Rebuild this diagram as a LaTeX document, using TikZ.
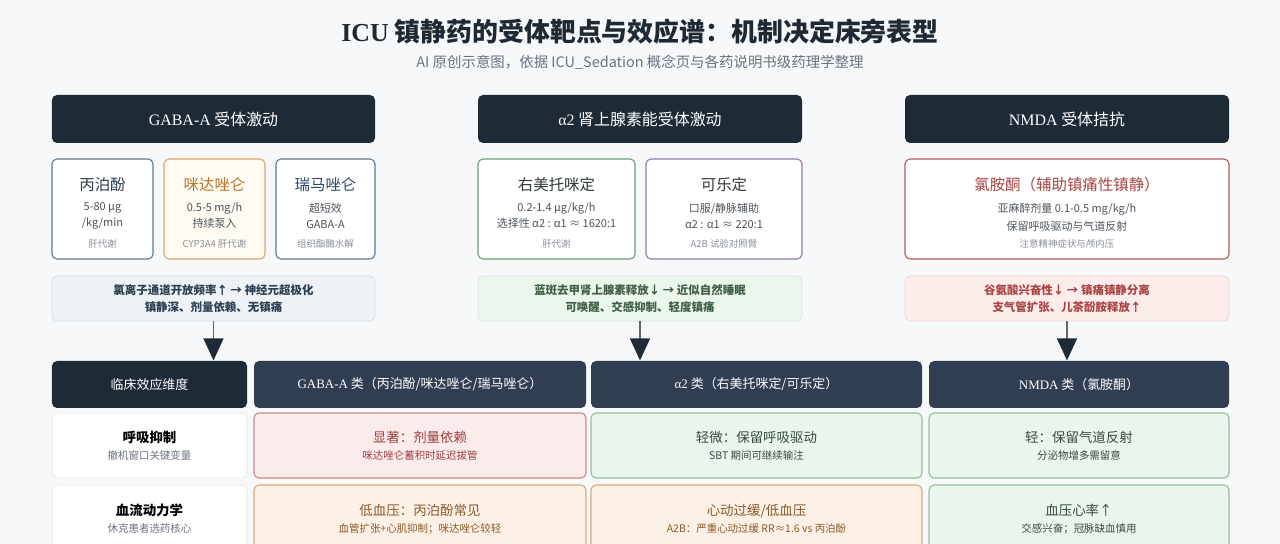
\documentclass[tikz,border=0pt]{standalone}
\usepackage{fontspec}
\setmainfont{Noto Sans CJK SC}
\newfontfamily\serif{Liberation Serif}
\usetikzlibrary{arrows.meta,positioning}

\definecolor{pagebg}{HTML}{F7F8FA}
\definecolor{headdark}{HTML}{1E2A36}
\definecolor{headslate}{HTML}{2F3E51}
\definecolor{ink}{HTML}{1F2933}
\definecolor{subgrey}{HTML}{6B7280}
\definecolor{notegrey}{HTML}{8A9099}
\definecolor{gabaline}{HTML}{5C7A90}
\definecolor{gabaink}{HTML}{2C3E50}
\definecolor{midline}{HTML}{D9A865}
\definecolor{midfill}{HTML}{FFFBF3}
\definecolor{midink}{HTML}{B5762C}
\definecolor{remiink}{HTML}{2E4A6B}
\definecolor{dexline}{HTML}{6A9E74}
\definecolor{dexink}{HTML}{2F3A33}
\definecolor{cloline}{HTML}{9479A8}
\definecolor{cloink}{HTML}{3A3540}
\definecolor{ketline}{HTML}{B55B5B}
\definecolor{ketink}{HTML}{A94444}
\definecolor{mechblue}{HTML}{EEF2F7}
\definecolor{mechgreen}{HTML}{EBF6ED}
\definecolor{mechred}{HTML}{FCECEA}
\definecolor{cellred}{HTML}{FCEBEB}
\definecolor{cellredline}{HTML}{C98A8A}
\definecolor{cellredink}{HTML}{9E3F3F}
\definecolor{cellgreen}{HTML}{EAF6EC}
\definecolor{cellgreenline}{HTML}{95BE9C}
\definecolor{cellgreenink}{HTML}{3A4A40}
\definecolor{cellorange}{HTML}{FDF1E5}
\definecolor{cellorangeline}{HTML}{D9A87A}
\definecolor{cellorangeink}{HTML}{8A5A2A}

\tikzset{
  panel/.style={rounded corners=5bp, inner sep=0pt, line width=1.1bp},
  receptor/.style={panel, fill=headdark, text=white, minimum height=48bp, font=\fontsize{16}{18}\selectfont},
  drugbox/.style={panel, fill=white, draw=#1, minimum height=100bp},
  drugname/.style={font=\fontsize{15.5}{17}\selectfont},
  druginfo/.style={font=\fontsize{11}{16}\selectfont, align=center, text=ink!80},
  drugnote/.style={font=\fontsize{9.5}{11}\selectfont, text=notegrey},
  mech/.style={panel, line width=0.8bp, minimum height=45bp, font=\fontsize{11.5}{17}\selectfont\bfseries, align=center},
  colhead/.style={panel, fill=headslate, text=white, minimum height=47bp, font=\fontsize{13}{15}\selectfont},
  rowname/.style={panel, line width=0.8bp, fill=white, draw=black!10, align=center},
  cell/.style={panel, align=center},
  feed/.style={draw=black!60, line width=1.2bp, -{Triangle[width=20bp,length=22bp,color=headdark]}}
}

%% cell text: title line and small line
\newcommand\ctitle[1]{{\fontsize{13.5}{16}\selectfont #1}}
\newcommand\rtitle[1]{{\fontsize{13.5}{16}\selectfont\bfseries #1}}
\newcommand\csmall[1]{{\fontsize{10.5}{13}\selectfont #1}}

\begin{document}
\begin{tikzpicture}[x=1bp,y=-1bp]
    \fill[pagebg] (0,0) rectangle (1280,544);
    \useasboundingbox (0,0) rectangle (1280,544);
    \clip (0,0) rectangle (1280,544);

    %% Title
    \node[text=ink, font=\fontsize{26}{30}\selectfont\bfseries] (title) at (640,32)
        {{\serif ICU} 镇静药的受体靶点与效应谱：机制决定床旁表型};
    \node[text=subgrey, font=\fontsize{14.5}{17}\selectfont] (subtitle) at (640,62)
        {AI 原创示意图，依据 ICU\_Sedation 概念页与各药说明书级药理学整理};

    %% Receptor headers
    \node[receptor, minimum width=323bp] (gaba) at (213.5,119) {{\serif GABA-A} 受体激动};
    \node[receptor, minimum width=324bp] (alpha) at (640,119) {{\serif α2} 肾上腺素能受体激动};
    \node[receptor, minimum width=324bp] (nmda) at (1067,119) {{\serif NMDA} 受体拮抗};

    %% Drugs
    \node[drugbox=gabaline, minimum width=101bp] (prop) at (102.5,209) {};
    \node[drugname, text=gabaink] (propN) at (102.5,185) {丙泊酚};
    \node[druginfo] (propI) at (102.5,216) {5-80 μg\\/kg/min};
    \node[drugnote] (propM) at (102.5,244) {肝代谢};

    \node[drugbox=midline, fill=midfill, minimum width=101bp] (mida) at (214.5,209) {};
    \node[drugname, text=midink] (midaN) at (214.5,185) {咪达唑仑};
    \node[druginfo] (midaI) at (214.5,216) {0.5-5 mg/h\\持续泵入};
    \node[drugnote] (midaM) at (214.5,244) {CYP3A4 肝代谢};

    \node[drugbox=gabaline, minimum width=99bp] (remi) at (325.5,209) {};
    \node[drugname, text=remiink] (remiN) at (325.5,185) {瑞马唑仑};
    \node[druginfo] (remiI) at (325.5,216) {超短效\\GABA-A};
    \node[drugnote] (remiM) at (325.5,244) {组织酯酶水解};

    \node[drugbox=dexline, minimum width=157bp] (dex) at (556.5,209) {};
    \node[drugname, text=dexink] (dexN) at (556.5,185) {右美托咪定};
    \node[druginfo] (dexI) at (556.5,216) {0.2-1.4 μg/kg/h\\选择性 α2 : α1 ≈ 1620:1};
    \node[drugnote] (dexM) at (556.5,244) {肝代谢};

    \node[drugbox=cloline, minimum width=156bp] (clon) at (724,209) {};
    \node[drugname, text=cloink] (clonN) at (724,185) {可乐定};
    \node[druginfo] (clonI) at (724,216) {口服/静脉辅助\\α2 : α1 ≈ 220:1};
    \node[drugnote] (clonM) at (724,244) {A2B 试验对照臂};

    \node[drugbox=ketline, minimum width=324bp] (ket) at (1067,209) {};
    \node[drugname, text=ketink] (ketN) at (1067,185) {氯胺酮（辅助镇痛性镇静）};
    \node[druginfo, font=\fontsize{11}{18}\selectfont] (ketI) at (1067,217) {亚麻醉剂量 0.1-0.5 mg/kg/h\\保留呼吸驱动与气道反射};
    \node[drugnote] (ketM) at (1067,244) {注意精神症状与颅内压};

    %% Mechanisms
    \node[mech, fill=mechblue, draw=gabaline!25, text=gabaink, minimum width=323bp] (gabaM) at (213.5,298.5)
        {氯离子通道开放频率↑ → 神经元超极化\\镇静深、剂量依赖、无镇痛};
    \node[mech, fill=mechgreen, draw=dexline!25, text=dexline!60!black, minimum width=324bp] (alphaM) at (640,298.5)
        {蓝斑去甲肾上腺素释放↓ → 近似自然睡眠\\可唤醒、交感抑制、轻度镇痛};
    \node[mech, fill=mechred, draw=ketline!25, text=ketink, minimum width=324bp] (nmdaM) at (1067,298.5)
        {谷氨酸兴奋性↓ → 镇痛镇静分离\\支气管扩张、儿茶酚胺释放↑};

    %% Table header
    \node[colhead, fill=headdark, minimum width=195bp] (dimH) at (149.5,384.5) {临床效应维度};
    \node[colhead, minimum width=332bp] (gabaH) at (420,384.5) {{\serif GABA-A} 类（丙泊酚/咪达唑仑/瑞马唑仑）};
    \node[colhead, minimum width=331bp] (alphaH) at (756.5,384.5) {{\serif α2} 类（右美托咪定/可乐定）};
    \node[colhead, minimum width=300bp] (nmdaH) at (1079,384.5) {{\serif NMDA} 类（氯胺酮）};

    \draw[feed] (gabaM.south) -- (gabaM.south |- gabaH.north);
    \draw[feed] (alphaM.south) -- (alphaM.south |- alphaH.north);
    \draw[feed] (nmdaM.south) -- (nmdaM.south |- nmdaH.north);

    %% Row: respiration
    \node[rowname, minimum width=195bp, minimum height=65bp] (resp) at (149.5,445.5)
        {\rtitle{呼吸抑制}\\[5bp]{\color{subgrey}\csmall{撤机窗口关键变量}}};
    \node[cell, fill=cellred, draw=cellredline, text=cellredink, minimum width=332bp, minimum height=65bp] (respG) at (420,445.5)
        {\ctitle{显著：剂量依赖}\\[5bp]\csmall{咪达唑仑蓄积时延迟拔管}};
    \node[cell, fill=cellgreen, draw=cellgreenline, text=cellgreenink, minimum width=331bp, minimum height=65bp] (respA) at (756.5,445.5)
        {\ctitle{轻微：保留呼吸驱动}\\[5bp]\csmall{SBT 期间可继续输注}};
    \node[cell, fill=cellgreen, draw=cellgreenline, text=cellgreenink, minimum width=300bp, minimum height=65bp] (respN) at (1079,445.5)
        {\ctitle{轻：保留气道反射}\\[5bp]\csmall{分泌物增多需留意}};

    %% Row: haemodynamics
    \node[rowname, minimum width=195bp, minimum height=68bp] (hemo) at (149.5,519)
        {\rtitle{血流动力学}\\[5bp]{\color{subgrey}\csmall{休克患者选药核心}}};
    \node[cell, fill=cellorange, draw=cellorangeline, text=cellorangeink, minimum width=332bp, minimum height=68bp] (hemoG) at (420,519)
        {\ctitle{低血压：丙泊酚常见}\\[5bp]\csmall{血管扩张+心肌抑制；咪达唑仑较轻}};
    \node[cell, fill=cellorange, draw=cellorangeline, text=cellorangeink, minimum width=331bp, minimum height=68bp] (hemoA) at (756.5,519)
        {\ctitle{心动过缓/低血压}\\[5bp]\csmall{A2B：严重心动过缓 RR≈1.6 vs 丙泊酚}};
    \node[cell, fill=cellgreen, draw=cellgreenline, text=cellgreenink, minimum width=300bp, minimum height=68bp] (hemoN) at (1079,519)
        {\ctitle{血压心率↑}\\[5bp]\csmall{交感兴奋；冠脉缺血慎用}};
\end{tikzpicture}
\end{document}
